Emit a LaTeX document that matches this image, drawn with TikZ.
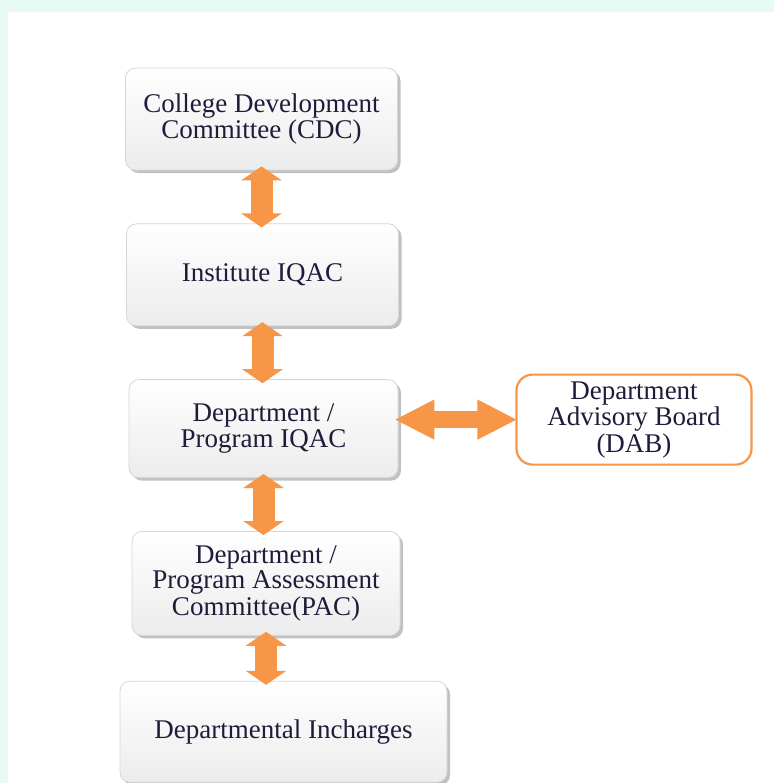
\documentclass[tikz,border=0pt]{standalone}
\usepackage{fontspec}
\setmainfont{Liberation Serif}
\usetikzlibrary{positioning, shadows, arrows.meta}
\definecolor{MintEdge}{RGB}{230, 249, 242}
\definecolor{OrangeLink}{RGB}{247, 150, 70}
\definecolor{InkNavy}{RGB}{30, 28, 58}
\definecolor{CardLine}{RGB}{215, 215, 215}

\begin{document}
\begin{tikzpicture}[
        x=0.5pt, y=-0.5pt,
        node distance=26.5pt and 58.5pt,
        card/.style={rectangle, rounded corners=5pt, draw=CardLine, top color=white, bottom color=gray!15, drop shadow={shadow xshift=1.5pt, shadow yshift=-1.5pt, fill=gray!60, opacity=0.8}, align=center, text=InkNavy, font=\fontsize{13.5}{11.75}\selectfont, minimum width=136pt, minimum height=51pt},
        advisory/.style={rectangle, rounded corners=8pt, draw=OrangeLink, line width=1.1pt, fill=white, align=center, text=InkNavy, font=\fontsize{13.5}{12}\selectfont, minimum width=117.5pt, minimum height=45pt},
        link/.style={<->, >={Triangle[length=7pt, width=20pt]}, line width=11pt, draw=OrangeLink, shorten <=-2pt, shorten >=-2pt},
        sidelink/.style={<->, >={Triangle[length=20pt, width=18.5pt]}, line width=8.5pt, draw=OrangeLink, shorten <=-2pt, shorten >=-1pt}
      ]
        % Page
        \useasboundingbox (0,0) rectangle (774,783);
        \fill[MintEdge] (0,0) rectangle (774,783);
        \fill[white] (8,12) rectangle (774,783);

        % Nodes
        \node [card] (cdc) at (261.5,119) {College Development\\Committee (CDC)};
        \node [card, below=of cdc, xshift=0.5pt] (iqac) {Institute IQAC};
        \node [card, minimum height=49pt, minimum width=134.5pt, below=of iqac, xshift=0.5pt] (dept) {Department /\\Program IQAC};
        \node [card, minimum height=52pt, minimum width=134pt, below=of dept, xshift=1.25pt] (pac) {Department /\\Program Assessment\\Committee(PAC)};
        \node [card, minimum height=50.5pt, minimum width=163.5pt, below=22.5pt of pac, xshift=8.75pt] (inch) {Departmental Incharges};
        \node [advisory, right=of dept, yshift=4.5pt] (dab) {Department\\Advisory Board\\(DAB)};

        % Connections
        \draw [link] (cdc.south) -- (cdc.south |- iqac.north);
        \draw [link] (iqac.south) -- (iqac.south |- dept.north);
        \draw [link] (dept.south) -- (dept.south |- pac.north);
        \draw [link] (pac.south) -- (pac.south |- inch.north);
        \draw [sidelink] (dept.east |- dab.west) -- (dab.west);
      \end{tikzpicture}
\end{document}
